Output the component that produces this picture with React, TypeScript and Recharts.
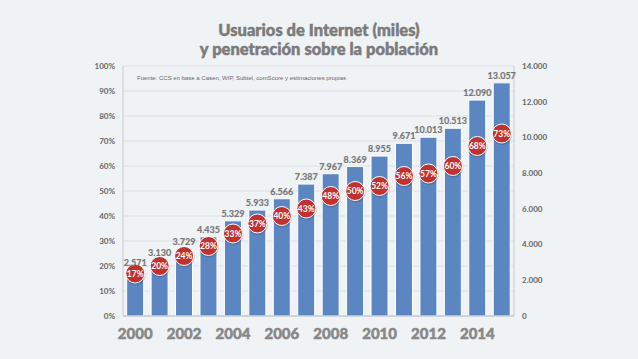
import React from "react";
import { ComposedChart, Bar, Line, XAxis, YAxis, CartesianGrid, LabelList } from "recharts";

const years = ["2000","2001","2002","2003","2004","2005","2006","2007","2008","2009","2010","2011","2012","2013","2014","2015"];
const users = [2571,3130,3729,4435,5329,5933,6566,7387,7967,8369,8955,9671,10013,10513,12090,13057];
const penetration = [17,20,24,28,33,37,40,43,48,50,52,56,57,60,68,73];
const leftTicks = [0,10,20,30,40,50,60,70,80,90,100];
const rightTicks = [0,2000,4000,6000,8000,10000,12000,14000];

const data = years.map((y, i) => ({ year: y, users: users[i], pen: penetration[i] }));

const fmt = (v: number) => String(v).replace(/\B(?=(\d{3})+(?!\d))/g, ".");

const PenDot = (props: any) => {
  const { cx, cy, payload } = props;
  if (cx == null || cy == null) return null;
  return (
    <g>
      <circle cx={cx + 0.5} cy={cy + 1.5} r={10} fill="#000" opacity={0.15} />
      <circle cx={cx} cy={cy} r={9.5} fill="#c0312f" stroke="#fff" strokeWidth={1} />
      <text x={cx} y={cy + 3} textAnchor="middle" fill="#fff" fontSize={8.5} fontWeight={700} fontFamily="Lato, sans-serif">
        {payload.pen}%
      </text>
    </g>
  );
};

const TopLabel = (props: any) => {
  const { x, y, width, value } = props;
  return (
    <text x={x + width / 2} y={y - 4} textAnchor="middle" fill="#777" fontSize={9} fontWeight={700} fontFamily="Lato, sans-serif" stroke="#777" strokeWidth={0.2}>
      {fmt(value)}
    </text>
  );
};

export default function App() {
  return (
    <div style={{ position: "fixed", left: 0, top: 0, width: 638, height: 359, background: "#f0f3f5", fontFamily: "Lato, sans-serif" }}>
      <div style={{ position: "absolute", left: 0, top: 21, width: 638, textAlign: "center", color: "#7b7b7b", fontWeight: 900, fontSize: 16.5, lineHeight: "19px", WebkitTextStroke: "0.5px #7b7b7b" }}>
        Usuarios de Internet (miles)
        <br />y penetración sobre la población
      </div>
      <ComposedChart width={638} height={359} data={data} margin={{ top: 66, right: 60, bottom: 13, left: 60 }} barCategoryGap="15%">
        <CartesianGrid vertical={false} stroke="#dcdfe2" yAxisId="left" />
        <XAxis dataKey="year" interval={1} tickLine={false} axisLine={{ stroke: "#b8bcc0" }} height={30}
          tick={{ fill: "#888", fontSize: 15, fontWeight: 900, fontFamily: "Lato, sans-serif", stroke: "#888", strokeWidth: 0.5 }} tickMargin={6} />
        <YAxis yAxisId="left" orientation="left" domain={[0, 100]} ticks={leftTicks} width={63}
          tickFormatter={(v: number) => `${v}%`} tickLine={false} axisLine={{ stroke: "#c8ccd0" }}
          tick={{ fill: "#666", fontSize: 8, fontWeight: 700, fontFamily: "Lato, sans-serif" }} />
        <YAxis yAxisId="right" orientation="right" domain={[0, 14000]} ticks={rightTicks} width={64}
          tickFormatter={(v: number) => fmt(v)} tickLine={false} axisLine={{ stroke: "#c8ccd0" }}
          tick={{ fill: "#666", fontSize: 8, fontWeight: 700, fontFamily: "Lato, sans-serif" }} />
        <Bar yAxisId="right" dataKey="users" fill="#5b86c1" stroke="#ffffff" strokeWidth={1} isAnimationActive={false}>
          <LabelList dataKey="users" content={TopLabel} />
        </Bar>
        <Line yAxisId="left" dataKey="pen" stroke="none" dot={<PenDot />} activeDot={false} isAnimationActive={false} />
      </ComposedChart>
      <div style={{ position: "absolute", left: 137, top: 75, fontSize: 6, color: "#666", fontFamily: "'Liberation Sans', Arial, sans-serif", whiteSpace: "nowrap" }}>
        Fuente: CCS en base a Casen, WIP, Subtel, comScore y estimaciones propias
      </div>
    </div>
  );
}
